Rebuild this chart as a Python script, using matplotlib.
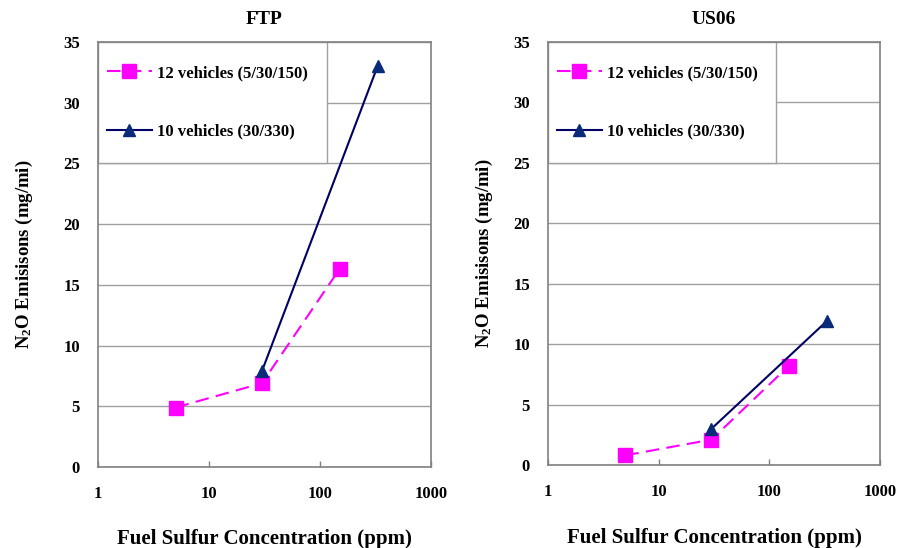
import matplotlib
matplotlib.use("Agg")
import matplotlib.pyplot as plt
from matplotlib.patches import Rectangle
from matplotlib.lines import Line2D

plt.rcParams['font.family'] = ['Liberation Serif', 'DejaVu Serif']
plt.rcParams['mathtext.fontset'] = 'custom'
plt.rcParams['mathtext.rm'] = 'Liberation Serif:bold'
plt.rcParams['mathtext.it'] = 'Liberation Serif:bold'
plt.rcParams['mathtext.bf'] = 'Liberation Serif:bold'

titles = ["FTP", "US06"]
sulfur_12 = [5, 30, 150]
sulfur_10 = [30, 330]
ftp_12 = [4.9, 6.9, 16.3]
ftp_10 = [7.9, 33.0]
us06_12 = [0.8, 2.1, 8.2]
us06_10 = [3.0, 11.9]
label_12 = "12 vehicles (5/30/150)"
label_10 = "10 vehicles (30/330)"
x_ticks = [1, 10, 100, 1000]
x_ticklabels = ["1", "10", "100", "1000"]
y_ticks = [0, 5, 10, 15, 20, 25, 30, 35]

pink = '#FF00FF'
navy = '#000066'
tri = '#0A2A7A'
gridc = '#A0A0A0'

fig = plt.figure(figsize=(9.02, 5.48), dpi=100)
positions = [[98/902, 1-467/548, 333/902, 425/548],
             [548/902, 1-465/548, 332/902, 423/548]]
data = [(ftp_12, ftp_10), (us06_12, us06_10)]
ylab_x = [-0.19, -0.16]
xlab_y = [-0.146, -0.149]

for i, (pos, title, (d12, d10)) in enumerate(zip(positions, titles, data)):
    ax = fig.add_axes(pos)
    ax.set_xscale('log')
    ax.set_xlim(1, 1000)
    ax.set_ylim(0, 35)
    ax.set_yticks(y_ticks)
    ax.set_yticklabels([str(v) for v in y_ticks], fontsize=12, fontweight='bold')
    ax.set_xticks(x_ticks)
    ax.set_xticklabels(x_ticklabels, fontsize=12, fontweight='bold')
    ax.minorticks_off()
    ax.tick_params(axis='x', direction='in', length=4, width=1, color='#808080', pad=14)
    ax.tick_params(axis='y', length=0, pad=13)
    ax.yaxis.grid(True, color=gridc, linewidth=1)
    ax.set_axisbelow(True)
    for s in ax.spines.values():
        s.set_color('#808080')
        s.set_linewidth(1.2)
    ax.add_patch(Rectangle((0, 25/35), 0.688, 10/35, transform=ax.transAxes,
                           facecolor='white', edgecolor='#A0A0A0', linewidth=1, zorder=2))
    ax.plot(sulfur_12, d12, color=pink, linestyle=(0, (6.5, 3.5)), linewidth=1.5,
            marker='s', markersize=10, markerfacecolor=pink, markeredgecolor=pink, zorder=4)
    ax.plot(sulfur_10, d10, color=navy, linestyle='-', linewidth=1.5,
            marker='^', markersize=9, markerfacecolor=tri, markeredgecolor=tri, zorder=5)
    h12 = Line2D([], [], color=pink, linestyle=(0, (6.5, 3.5)), linewidth=1.5, marker='s',
                 markersize=10, markerfacecolor=pink, markeredgecolor=pink)
    h10 = Line2D([], [], color=navy, linestyle='-', linewidth=1.5, marker='^',
                 markersize=9, markerfacecolor=tri, markeredgecolor=tri)
    leg = ax.legend([h12, h10], [label_12, label_10], loc='upper left',
                    bbox_to_anchor=(0.012, 0.957), frameon=False,
                    prop={'family': 'Liberation Serif', 'weight': 'bold', 'size': 12},
                    handlelength=2.7, handletextpad=0.3, labelspacing=2.55,
                    borderpad=0.3, borderaxespad=0)
    leg.set_zorder(6)
    ax.set_title(title, fontsize=14, fontweight='bold', pad=13)
    ax.set_xlabel('Fuel Sulfur Concentration (ppm)', fontsize=15, fontweight='bold')
    ax.set_ylabel(r'N$_2$O Emisisons (mg/mi)', fontsize=13.5, fontweight='bold')
    ax.xaxis.set_label_coords(0.5, xlab_y[i])
    ax.yaxis.set_label_coords(ylab_x[i], 0.5)

fig.savefig('out.png', dpi=100)
